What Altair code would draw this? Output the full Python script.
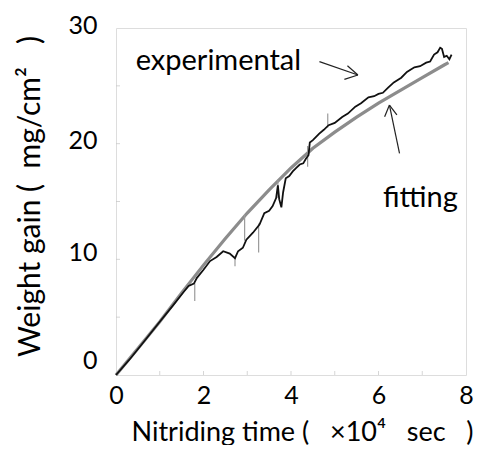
import altair as alt
import pandas as pd

# Experimental curve
exp_t = [0.0, 0.3, 0.6, 1.0, 1.3, 1.55, 1.66, 1.78, 1.85, 2.0, 2.15, 2.3, 2.45, 2.6, 2.72,
         2.79, 2.9, 2.98, 3.13, 3.28, 3.39, 3.5, 3.58, 3.66, 3.70, 3.73, 3.78, 3.82, 3.88, 3.96,
         4.04, 4.12, 4.2, 4.28, 4.34, 4.40, 4.43, 4.5, 4.64, 4.75, 4.86, 5.0, 5.17, 5.3, 5.47,
         5.6, 5.77, 5.9, 6.0, 6.1, 6.22, 6.35, 6.52, 6.65, 6.82, 6.95, 7.09, 7.18, 7.27, 7.35,
         7.41, 7.45, 7.5, 7.56, 7.62, 7.67]
exp_w = [0.0, 1.3, 2.7, 4.6, 6.0, 7.2, 7.7, 7.9, 8.4, 9.1, 9.85, 10.2, 10.7, 10.5, 10.1,
         10.7, 11.0, 11.7, 12.3, 13.0, 14.0, 14.2, 14.6, 15.3, 16.4, 15.2, 14.5, 15.8, 17.0, 17.2,
         17.6, 17.9, 18.2, 18.3, 18.7, 19.0, 20.1, 20.3, 20.85, 21.2, 21.6, 21.8, 22.3, 22.6, 23.2,
         23.5, 24.0, 24.1, 24.3, 24.4, 24.85, 25.3, 25.7, 26.2, 26.6, 26.7, 27.0, 27.1, 27.7, 27.9,
         28.3, 28.2, 27.5, 27.6, 27.3, 27.7]

# Fitting curve
fit_t = [0, 0.5, 1, 1.5, 2, 2.5, 3, 3.5, 4, 4.5, 5, 5.5, 6, 6.5, 7, 7.5, 7.6]
fit_w = [0, 2.3, 4.6, 7.1, 9.5, 11.8, 14.0, 16.0, 17.9, 19.6, 21.0, 22.3, 23.5, 24.6, 25.7, 26.8, 27.0]

# Noise spikes in the measurement
spike_t = [1.80, 2.72, 2.94, 3.26, 3.70, 4.38, 4.84]
spike_lo = [6.4, 9.4, 11.6, 10.6, 15.3, 18.0, 21.4]
spike_hi = [8.0, 10.2, 13.9, 13.1, 16.9, 19.8, 22.6]

# Axis ticks
x_labels = [0, 2, 4, 6, 8]
y_labels = [0, 10, 20, 30]
x_minor = [1, 2, 3, 4, 5, 6, 7]
y_minor = [5, 10, 15, 20, 25]

# Annotations
ann_text = ["experimental", "fitting"]
ann_t = [0.45, 6.1]
ann_w = [26.37, 14.52]

arrow_t = [4.65, 5.29, 5.22, 6.48, 6.14, 6.42]
arrow_w = [27.09, 26.74, 25.56, 19.17, 22.33, 22.48]
arrow_t2 = [5.53, 5.53, 5.53, 6.25, 6.25, 6.25]
arrow_w2 = [25.94, 25.94, 25.94, 23.34, 23.34, 23.34]

NB = "\u00a0"
x_title = "Nitriding time (" + NB * 2 + " ×10⁴" + NB * 2 + " sec" + NB * 2 + " )"
y_title = "Weight gain (" + NB + " mg/cm²" + NB * 2 + " )"

exp_df = pd.DataFrame({"t": exp_t, "w": exp_w})
fit_df = pd.DataFrame({"t": fit_t, "w": fit_w})
spk_df = pd.DataFrame({"t": spike_t, "w": spike_lo, "w2": spike_hi})
xm_df = pd.DataFrame({"t": x_minor})
ym_df = pd.DataFrame({"w": y_minor})
ann_df = pd.DataFrame({"t": ann_t, "w": ann_w, "label": ann_text})
arr_df = pd.DataFrame({"t": arrow_t, "w": arrow_w, "t2": arrow_t2, "w2": arrow_w2})

FONT = "Lato"
xs = alt.Scale(domain=[0, 8], nice=False)
ys = alt.Scale(domain=[0, 30], nice=False)

x_axis = alt.Axis(values=x_labels, title=x_title, grid=False,
                  ticks=False, domain=False, labelFont=FONT, labelFontSize=25,
                  labelColor="black", labelPadding=8, labelFlush=False,
                  titleFont=FONT, titleFontSize=27, titleFontWeight="normal",
                  titleColor="black", titleX=186, titleY=65, titleAlign="center",
                  titleBaseline="alphabetic")
y_axis = alt.Axis(values=y_labels, title=y_title, grid=False,
                  ticks=False, domain=False, labelFont=FONT, labelFontSize=25,
                  labelColor="black", labelPadding=19, labelFlush=False,
                  labelOffset={"condition": [{"test": "datum.value == 0", "value": -15},
                                             {"test": "datum.value == 10", "value": -7}],
                               "value": -3},
                  titleFont=FONT, titleFontSize=30, titleFontWeight="normal",
                  titleColor="black", titleX=-86, titleY=168, titleAlign="center",
                  titleBaseline="middle", titleAngle=270)


def X(field):
    return alt.X(field, scale=xs, axis=x_axis)


def Y(field):
    return alt.Y(field, scale=ys, axis=y_axis)


fit = alt.Chart(fit_df).mark_line(color="#8c8c8c", strokeWidth=3.2).encode(
    x=X("t:Q"), y=Y("w:Q"))

spikes = alt.Chart(spk_df).mark_rule(color="#9a9a9a", strokeWidth=1.2).encode(
    x=X("t:Q"), y=Y("w:Q"), y2="w2:Q")

exp = alt.Chart(exp_df).mark_line(color="#111111", strokeWidth=1.8).encode(
    x=X("t:Q"), y=Y("w:Q"))

xticks = alt.Chart(xm_df).mark_tick(orient="vertical", size=8, thickness=1,
                                    color="#c4c4c4", clip=True).encode(
    x=X("t:Q"), y=alt.Y(datum=0, scale=ys, axis=y_axis))
yticks = alt.Chart(ym_df).mark_tick(orient="horizontal", size=8, thickness=1,
                                    color="#c4c4c4", clip=True).encode(
    y=Y("w:Q"), x=alt.X(datum=0, scale=xs, axis=x_axis))

arrows = alt.Chart(arr_df).mark_rule(color="#222222", strokeWidth=1.2).encode(
    x=X("t:Q"), y=Y("w:Q"), x2="t2:Q", y2="w2:Q")

texts = alt.Chart(ann_df).mark_text(font=FONT, fontSize=29, align="left",
                                    baseline="alphabetic", color="black").encode(
    x=X("t:Q"), y=Y("w:Q"), text="label:N")

chart = alt.layer(fit, spikes, exp, xticks, yticks, arrows, texts).properties(
    width=350, height=347,
    padding={"left": 108, "top": 20, "right": 8, "bottom": 70},
    autosize=alt.AutoSizeParams(type="none"),
).configure_view(stroke="#ababab", strokeWidth=1.5).configure(background="white")

chart.save("out.html", embed_options={"renderer": "svg", "actions": False})
